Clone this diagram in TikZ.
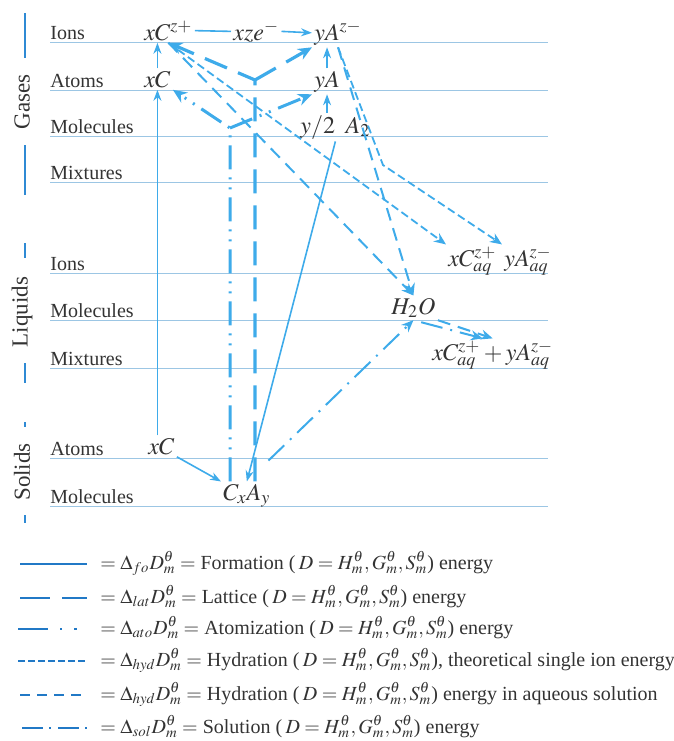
\documentclass[tikz,border=0pt]{standalone}
\usepackage{mathptmx}
\usepackage{fontspec}
\setmainfont{Liberation Serif}
\usetikzlibrary{arrows.meta,calc}
\definecolor{Ink}{HTML}{333333}
\definecolor{Arrow}{HTML}{3EABEA}
\definecolor{Level}{HTML}{9CC6E4}
\definecolor{Bar}{HTML}{2F8AD4}
\definecolor{Key}{HTML}{2179C6}
\tikzset{
  level/.style={Level,line width=0.5pt},
  bar/.style={Bar,line width=0.7pt},
  phase/.style={rotate=90,text=Ink,font=\fontsize{11.5}{13}\selectfont},
  rowlabel/.style={anchor=base west,inner sep=0pt,text=Ink,font=\fontsize{10}{12}\selectfont},
  species/.style={anchor=base west,inner sep=1pt,text=Ink,font=\fontsize{12}{14}\selectfont},
  formation/.style={-{Stealth[length=5.5pt,width=4pt]},Arrow,line width=0.8pt},
  lattice/.style={-{Stealth[length=7pt,width=6pt]},Arrow,line width=1.6pt,dash pattern=on 12pt off 6pt},
  atomiz/.style={-{Stealth[length=7pt,width=6pt]},Arrow,line width=1.5pt,dash pattern=on 12pt off 4pt on 1pt off 4pt on 1pt off 4pt},
  hydion/.style={-{Stealth[length=6pt,width=5pt]},Arrow,line width=0.9pt,dash pattern=on 4pt off 2pt},
  hydaq/.style={-{Stealth[length=6pt,width=5pt]},Arrow,line width=1pt,dash pattern=on 6.5pt off 4pt},
  solution/.style={-{Stealth[length=6pt,width=5pt]},Arrow,line width=1pt,dash pattern=on 11pt off 4pt on 1pt off 4pt},
  keyline/.style={Key,line width=1.3pt},
  keytext/.style={anchor=base west,inner sep=0pt,text=Ink,font=\fontsize{10}{12}\selectfont}
}
\begin{document}
\begin{tikzpicture}[x=0.5pt,y=-0.5pt]
\useasboundingbox (0,0) rectangle (674,741);
% phases
\draw[bar] (25,13) -- (25,58);
\node[phase] (gases) at (22,102) {Gases};
\draw[bar] (25,145) -- (25,195);
\draw[bar] (25,243) -- (25,258);
\node[phase] (liquids) at (22,312) {Liquids};
\draw[bar] (25,363) -- (25,383);
\draw[bar] (25,422) -- (25,427);
\node[phase] (solids) at (22,472) {Solids};
\draw[bar] (25,515) -- (25,523);
% levels
\draw[level] (50,42) -- (548,42);
\draw[level] (50,90) -- (548,90);
\draw[level] (50,136) -- (548,136);
\draw[level] (50,182) -- (548,182);
\draw[level] (50,273) -- (548,273);
\draw[level] (50,320) -- (548,320);
\draw[level] (50,368) -- (548,368);
\draw[level] (50,458) -- (548,458);
\draw[level] (50,506) -- (548,506);
\node[rowlabel] (gIons) at (50,39) {Ions};
\node[rowlabel] (gAtoms) at (50,87) {Atoms};
\node[rowlabel] (gMolecules) at (50,133) {Molecules};
\node[rowlabel] (gMixtures) at (50,179) {Mixtures};
\node[rowlabel] (lIons) at (50,270) {Ions};
\node[rowlabel] (lMolecules) at (50,317) {Molecules};
\node[rowlabel] (lMixtures) at (50,365) {Mixtures};
\node[rowlabel] (sAtoms) at (50,455) {Atoms};
\node[rowlabel] (sMolecules) at (50,503) {Molecules};
% species
\node[species] (cIonG) at (142,40) {$xC^{z+}$};
\node[species] (eTr) at (231,40) {$xze^{-}$};
\node[species] (aIonG) at (312,40) {$yA^{z-}$};
\node[species] (cAtG) at (142,87) {$xC$};
\node[species] (aAtG) at (312,87) {$yA$};
\node[species] (aMolG) at (298,133) {$y/2\;\;A_{2}$};
\node[species] (cAq) at (446,266) {$xC^{z+}_{aq}$};
\node[species] (aAq) at (502,266) {$yA^{z-}_{aq}$};
\node[species] (water) at (389,314) {$H_{2}O$};
\node[species] (mix) at (430,360) {$xC^{z+}_{aq}+yA^{z-}_{aq}$};
\node[species] (cAtS) at (146,454) {$xC$};
\node[species] (salt) at (221,500) {$C_{x}A_{y}$};
\coordinate (latJ) at (255,80);
\coordinate (atoJ) at (230,128);
\coordinate (ionKink) at (383,165);
% formation
\draw[formation,-] (cIonG.east) -- (eTr.west);
\draw[formation] (eTr.east) -- (aIonG.west);
\draw[formation] (cAtS.north -| cAtG) -- (cAtG.south);
\draw[formation] (cAtG.north) -- (cAtG.north |- cIonG.south);
\draw[formation] (aAtG.north) -- (aAtG.north |- aIonG.south);
\draw[formation] (aMolG.north -| aAtG) -- (aAtG.south);
\draw[formation] (aMolG.south) -- (salt.north);
\draw[formation] (cAtS.south east) -- (salt.north west);
% lattice
\draw[lattice] (salt.north -| latJ) -- (latJ) -- (cIonG.south);
\draw[lattice] (latJ) -- (aIonG.south west);
% atomization
\draw[atomiz] (salt.north -| atoJ) -- (atoJ) -- (cAtG.south east);
\draw[atomiz] (atoJ) -- (aAtG.south west);
% hydration
\draw[hydion] (cIonG.south) -- (cAq.north west);
\draw[hydion] (aIonG.south) -- (ionKink) -- (aAq.north west);
\draw[hydaq] (cIonG.south) -- (water.north);
\draw[hydaq] (aIonG.south) -- (water.north);
\draw[hydaq] (water.south east) -- (mix.north);
% solution
\draw[solution,shorten <=15pt] (salt.north) -- (water.south);
\draw[solution,shorten <=4pt] (water.south) -- ($(mix.north)+(-10,0)$);
% key
\draw[keyline] (20,564) -- (87,564);
\node[keytext] (kFo) at (100,569) {$=\Delta_{fo}D^{\theta}_{m}=$ Formation (\,$D=H^{\theta}_{m},G^{\theta}_{m},S^{\theta}_{m}$) energy};
\draw[keyline,dash pattern=on 15pt off 6pt] (20,598) -- (87,598);
\node[keytext] (kLat) at (100,603) {$=\Delta_{lat}D^{\theta}_{m}=$ Lattice (\,$D=H^{\theta}_{m},G^{\theta}_{m},S^{\theta}_{m}$) energy};
\draw[keyline,dash pattern=on 15pt off 6pt on 1.2pt off 6pt on 1.2pt off 6pt] (18,629) -- (80,629);
\node[keytext] (kAto) at (100,634) {$=\Delta_{ato}D^{\theta}_{m}=$ Atomization (\,$D=H^{\theta}_{m},G^{\theta}_{m},S^{\theta}_{m}$) energy};
\draw[keyline,dash pattern=on 3.5pt off 1.5pt] (18,661) -- (85,661);
\node[keytext] (kHion) at (100,666) {$=\Delta_{hyd}D^{\theta}_{m}=$ Hydration (\,$D=H^{\theta}_{m},G^{\theta}_{m},S^{\theta}_{m}$), theoretical single ion energy};
\draw[keyline,dash pattern=on 5pt off 3.5pt] (20,695) -- (83,695);
\node[keytext] (kHaq) at (100,700) {$=\Delta_{hyd}D^{\theta}_{m}=$ Hydration (\,$D=H^{\theta}_{m},G^{\theta}_{m},S^{\theta}_{m}$) energy in aqueous solution};
\draw[keyline,dash pattern=on 10.5pt off 3pt on 1pt off 3.5pt] (22,728) -- (88,728);
\node[keytext] (kSol) at (100,733) {$=\Delta_{sol}D^{\theta}_{m}=$ Solution (\,$D=H^{\theta}_{m},G^{\theta}_{m},S^{\theta}_{m}$) energy};
\end{tikzpicture}
\end{document}
